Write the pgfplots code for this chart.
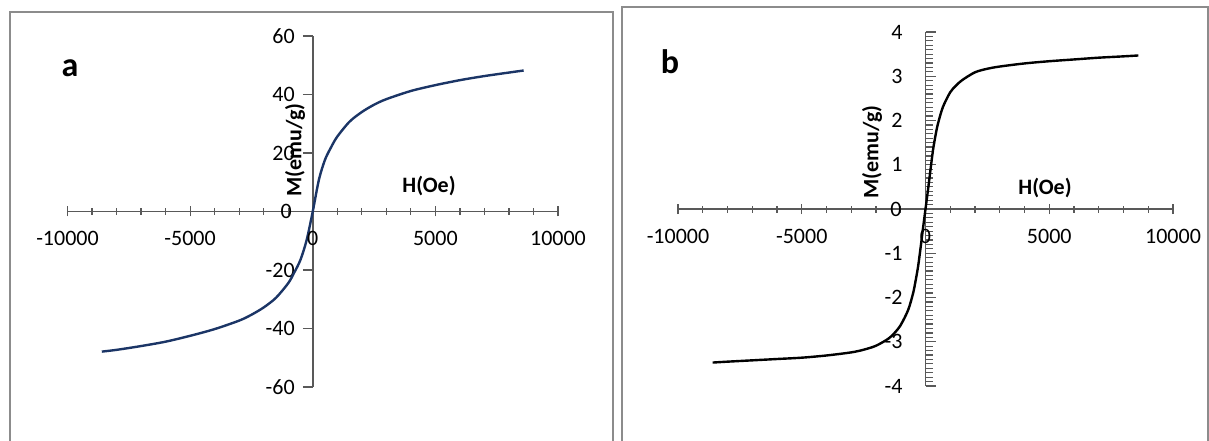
\documentclass[border=0pt]{standalone}
\usepackage{pgfplots}
\pgfplotsset{compat=1.18}
\usepackage{fontspec}
\setmainfont{Carlito}
\definecolor{curvea}{HTML}{1B3566}
\definecolor{axgray}{HTML}{595959}
\definecolor{framegray}{HTML}{8C8C8C}
\tikzset{zlab/.style={font=\fontsize{11}{13}\selectfont, text=black}}
\begin{document}
\begin{tikzpicture}
\useasboundingbox (0,0) rectangle (604.5pt,220pt);
\draw[framegray, line width=1pt] (5pt,-2pt) -- (5pt,214pt) -- (306.5pt,214pt) -- (306.5pt,-2pt);
\draw[framegray, line width=1pt] (311pt,-2pt) -- (311pt,216.5pt) -- (603.8pt,216.5pt) -- (603.8pt,-2pt);
\pgfplotsset{
  mystyle/.style={
    scale only axis,
    anchor=south west,
    axis x line=middle, axis y line=middle,
    axis line style={-, axgray, line width=0.75pt},
    every tick/.style={axgray, line width=0.6pt},
    xmin=-10000, xmax=10000,
    scaled ticks=false,
    xtick={-10000,-5000,0,5000,10000},
    xticklabels={-10000,-5000,0,5000,10000},
    minor x tick num=4,
    /pgf/number format/assume math mode=true,
    tick label style={font=\fontsize{11}{13}\selectfont, text=black},
    xticklabel style={yshift=-4pt},
    clip=false,
  }
}
\begin{axis}[mystyle,
  at={(33.75pt,26.5pt)}, width=245.25pt, height=175.5pt,
  ymin=-60, ymax=60, ytick={-60,-40,-20,0,20,40,60},
  yticklabels={-60,-40,-20,0,20,40,60},
  xtick align=center,
  major tick length=5pt, minor tick length=3.5pt,
  ytick align=outside,
  yticklabel style={xshift=-0.5pt},
]
\addplot[curvea, line width=1.2pt, smooth] coordinates {
(-8600,-47.9) (-8000,-47.3) (-7000,-46.0) (-6000,-44.5) (-5000,-42.5) (-4000,-40.2)
(-3000,-37.3) (-2500,-35.3) (-2000,-32.8) (-1500,-29.5) (-1000,-24.5) (-750,-20.8)
(-500,-16.5) (-250,-9.8) (0,0) (250,10.8) (500,17.7) (750,22.0) (1000,25.6)
(1500,30.7) (2000,34.0) (2500,36.5) (3000,38.4) (4000,41.2) (5000,43.2)
(6000,44.9) (7000,46.3) (8000,47.5) (8600,48.2)
};
\node[zlab, anchor=north, yshift=-6.5pt] at (axis cs:0,0) {0};
\node[zlab, anchor=east, xshift=-7pt] at (axis cs:0,0) {0};
\end{axis}
\begin{axis}[mystyle,
  at={(339pt,27pt)}, width=247.5pt, height=177pt,
  ymin=-4, ymax=4, ytick={-4,-3,-2,-1,0,1,2,3,4},
  yticklabels={-4,-3,-2,-1,0,1,2,3,4},
  minor y tick num=9,
  xtick align=center,
  major tick length=5pt, minor tick length=3.5pt,
  ytick align=inside,
  yticklabel style={xshift=-8pt},
]
\addplot[black, line width=1.2pt, smooth] coordinates {
(-8600,-3.47) (-8000,-3.45) (-7000,-3.42) (-6000,-3.39) (-5000,-3.36) (-4000,-3.31)
(-3000,-3.24) (-2500,-3.18) (-2000,-3.09) (-1500,-2.93) (-1250,-2.80) (-1000,-2.62)
(-700,-2.28) (-500,-1.90) (-400,-1.62) (-300,-1.30) (-200,-0.88) (-100,-0.43) (0,0)
(100,0.43) (200,0.88) (300,1.32) (400,1.65) (500,1.92) (700,2.30) (1000,2.64)
(1250,2.80) (1500,2.92) (2000,3.09) (2500,3.17) (3000,3.22) (4000,3.29)
(5000,3.34) (6000,3.38) (7000,3.42) (8000,3.45) (8600,3.47)
};
\node[zlab, anchor=north, yshift=-6.5pt] at (axis cs:0,0) {0};
\node[zlab, anchor=east, xshift=-8.5pt] at (axis cs:0,0) {0};
\end{axis}
\node[font=\fontsize{11}{13}\selectfont\bfseries, rotate=90] at (147.5pt,145pt) {M(emu/g)};
\node[font=\fontsize{11}{13}\selectfont\bfseries] at (214.5pt,127pt) {H(Oe)};
\node[font=\fontsize{11}{13}\selectfont\bfseries, rotate=90] at (436pt,144pt) {M(emu/g)};
\node[font=\fontsize{11}{13}\selectfont\bfseries] at (522.5pt,126pt) {H(Oe)};
\node[font=\fontsize{17}{20}\selectfont\bfseries] at (35pt,186pt) {a};
\node[font=\fontsize{17}{20}\selectfont\bfseries] at (335pt,189pt) {b};
\end{tikzpicture}
\end{document}
